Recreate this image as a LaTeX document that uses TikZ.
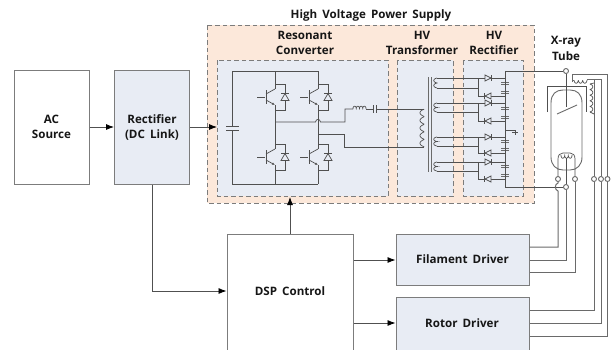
\documentclass[tikz,border=0pt]{standalone}
\usepackage{fontspec}
\setmainfont[WordSpace=1.7]{Open Sans}
\usetikzlibrary{arrows.meta}
\definecolor{boxfill}{HTML}{E8ECF4}
\definecolor{hvfill}{HTML}{FCE8DA}
\definecolor{edgegray}{HTML}{7C7C7C}
\definecolor{wiredark}{HTML}{505050}
\definecolor{wiregray}{HTML}{6A6A6A}
\definecolor{inkdark}{HTML}{161616}
\tikzset{
  block/.style={draw=edgegray,line width=1pt,inner sep=0pt,align=center,text=inkdark,font=\bfseries\fontsize{11.6}{15}\selectfont},
  title/.style={inner sep=0pt,align=center,text=inkdark,font=\bfseries\fontsize{11.6}{15.5}\selectfont},
  dashbox/.style={draw=edgegray,line width=0.9pt,dash pattern=on 4.5pt off 3pt},
  flow/.style={draw=wiredark,line width=0.8pt,-{Latex[length=8pt,width=6pt,color=black]}},
  wire/.style={draw=wiredark,line width=0.7pt},
  lead/.style={draw=wiregray,line width=1pt},
  term/.style={circle,draw=wiregray,fill=white,line width=0.9pt,minimum size=5pt,inner sep=0pt}
}
% x, y start, y end, turns, bulge
\newcommand{\VCoil}[5]{\draw[wire,domain=0:360*#4,samples=#4*24+1,variable=\t] plot ({#1+#5*(1-cos(\t))},{#2+(\t/(360*#4))*(#3-#2)-0.7*sin(\t)});}
% y, x start, x end, turns, bulge
\newcommand{\HCoil}[5]{\draw[wire,domain=0:360*#4,samples=#4*24+1,variable=\t] plot ({#2+(\t/(360*#4))*(#3-#2)-0.7*sin(\t)},{#1+#5*(1-cos(\t))});}
% transistor with its freewheel diode: column x, centre y
\newcommand{\Igbt}[2]{%
  \draw[wire] (#1-18,#2)--(#1-10,#2);
  \draw[wire,line width=1pt] (#1-9,#2-7)--(#1-9,#2+7);
  \draw[wire] (#1-9,#2-3)--(#1,#2-8);
  \draw[wire,-{Latex[length=3pt,width=2.5pt]}] (#1-9,#2+3)--(#1,#2+8);
  \draw[wire] (#1,#2-13)--(#1+10,#2-13)--(#1+10,#2+13)--(#1,#2+13);
  \draw[wire,fill=boxfill] (#1+10,#2-3.5)--(#1+6,#2+3.5)--(#1+14,#2+3.5)--cycle;
  \draw[wire] (#1+6,#2-3.5)--(#1+14,#2-3.5);
}
% rectifier arm: diode at y, direction +1 or -1
\newcommand{\RDiode}[3]{%
  \draw[wire,fill=boxfill] (#1-3*#3,#2-3)--(#1-3*#3,#2+3)--(#1+3*#3,#2)--cycle;
  \draw[wire] (#1+3.5*#3,#2-3)--(#1+3.5*#3,#2+3);
}
\newcommand{\RCap}[1]{\draw[wiregray,line width=1pt] (501,#1-1)--(509,#1-1) (501,#1+1)--(509,#1+1);}
% secondary winding: top y, bottom y, bottom diode y
\newcommand{\Sec}[5]{%
  \VCoil{437}{#1}{#2}{2}{-1.6}
  \draw[wire] (437,#1)--(505,#1) (437,#2)--(478,#2) (478,#1)--(478,#3)--(505,#3);
  \RDiode{488}{#1}{1}
  \RDiode{488}{#3}{-1}
  \RCap{#4}\RCap{#5}
}
\begin{document}
\begin{tikzpicture}[x=1pt,y=-1pt]
\useasboundingbox (0,0) rectangle (616,349);
\clip (0,0) rectangle (616,349);
\fill[white] (0,0) rectangle (616,349);

% high voltage supply frame and its three sections
\draw[dashbox,fill=hvfill] (207,25) rectangle (534,203);
\draw[dashbox,fill=boxfill] (217,60) rectangle (388,196);
\draw[dashbox,fill=boxfill] (397,60) rectangle (453,196);
\draw[dashbox,fill=boxfill] (463,60) rectangle (523,196);
\coordinate (hvleft) at (217,127);
\coordinate (hvbottom) at (290,197);

\node[title] (thv) at (371,15) {High Voltage Power Supply};
\node[title] (tres) at (305,43) {Resonant\\Converter};
\node[title] (txf) at (422,43) {HV\\Transformer};
\node[title] (trec) at (494,43) {HV\\Rectifier};
\node[title] (ttube) at (566,48.5) {X-ray\\Tube};

% main blocks
\node[block,fill=white,minimum width=75pt,minimum height=114pt] (ac) at (51.5,127) {AC\\Source};
\node[block,fill=boxfill,minimum width=75pt,minimum height=114pt] (rect) at (152,127) {Rectifier\\(DC Link)};
\node[block,fill=white,minimum width=126pt,minimum height=124pt] (dsp) at (290,296) {};
\node[title] (dsplabel) at (290,291) {DSP Control};
\node[block,fill=boxfill,minimum width=133pt,minimum height=51pt] (fil) at (462.5,259.5) {Filament Driver};
\node[block,fill=boxfill,minimum width=133pt,minimum height=58pt] (rot) at (462.5,326) {};
\node[title] (rotlabel) at (462,323) {Rotor Driver};

% signal flow
\draw[flow] (ac.east|-0,127) -- (rect.west|-0,127);
\draw[flow] (rect.east|-0,127) -- (hvleft);
\draw[flow] (rect.south) -- (152,291) -- (dsp.west|-0,291);
\draw[flow] (dsp.north) -- (hvbottom);
\draw[flow] (dsp.east|-0,260) -- (fil.west|-0,260);
\draw[flow] (dsp.east|-0,323) -- (rot.west|-0,323);

% bridge
\draw[wire] (232,126)--(232,71)--(318,71);
\draw[wire] (232,130)--(232,184)--(318,184);
\draw[wire,line width=1pt] (226,126)--(239,126);
\draw[wire,line width=1pt] (226,130)--(239,130);
\draw[wire] (275,71)--(275,89) (275,105)--(275,149) (275,165)--(275,184);
\draw[wire] (318,71)--(318,89) (318,105)--(318,149) (318,165)--(318,184);
\Igbt{275}{97}\Igbt{318}{97}\Igbt{275}{157}\Igbt{318}{157}
\draw[wire] (275,122)--(315.5,122) .. controls (316,118.5) and (320,118.5) .. (320.5,122) -- (345,122)--(345,109)--(353,109);
\HCoil{109}{353}{366}{4}{-1.4}
\draw[wire] (366,109)--(373.5,109) (376.5,109)--(424,109);
\draw[wire,line width=1pt] (373.5,105)--(373.5,113) (376.5,105)--(376.5,113);
\draw[wire] (318,134)--(344,134)--(344,147)--(424,147);

% transformer
\VCoil{424}{109}{147}{5}{-2}
\draw[wiregray,line width=1pt] (428,77)--(428,172) (431,77)--(431,172);

% rectifier stack
\Sec{78}{88}{96}{83}{92}
\Sec{103}{112}{121}{108}{117}
\Sec{137}{146}{153}{141}{149}
\Sec{162}{171}{179}{166}{175}
\draw[wire] (505,71)--(505,187);
\draw[wire] (505,130)--(515,130)--(515,135);
\draw[wire,line width=1pt] (512,132)--(518,132);

% tube
\draw[lead,line width=0.9pt] (551,130) -- (551,103) .. controls (551,94) and (556,90) .. (563,90) -- (570,90) .. controls (577,90) and (582,94) .. (582,103) -- (582,157) .. controls (582,165) and (577,170) .. (570,170) -- (563,170) .. controls (556,170) and (551,165) .. (551,157) -- cycle;
\draw[wire] (547,112)--(547,86)--(586,86)--(586,112);
\draw[lead,line width=0.9pt] (557,114)--(577,105);
\node[term] (anode) at (566,71) {};
\node[term] (cath) at (566,187) {};
\node[term] (fa) at (558,179) {};
\node[term] (fb) at (575,179) {};
\node[term] (ra) at (594,179) {};
\node[term] (rb) at (601,179) {};
\node[term] (rc) at (607.5,179) {};
\draw[wire] (505,71) -- (anode);
\draw[wire] (505,187) -- (cath);
\draw[wire] (anode) -- (566,107);
\draw[wire] (fa) -- (558,159) .. controls (558,155) and (560,153) .. (563,153) -- (570,153) .. controls (573,153) and (575,155) .. (575,159) -- (fb);
\HCoil{155}{561}{572}{3}{1.6}
\draw[wire] (566,158) -- (cath);

% stator windings
\draw[lead] (572,82)--(572,74)--(607.5,74)--(rc);
\HCoil{80}{574}{587}{3}{1.6}
\draw[lead,line width=0.8pt] (572,80)--(574,80) (587,80)--(587,79)--(601,79)--(rb);
\draw[lead] (594,79)--(ra);
\VCoil{590}{84}{112}{5}{1.4}
\draw[wire] (594,83)--(590,84) (590,112)--(594,114);

% driver leads
\draw[lead] (fa) -- (558,183) .. controls (554.5,184) and (554.5,190) .. (558,191) -- (558,247) -- (fil.east|-0,247);
\draw[lead] (cath) -- (566,260) -- (fil.east|-0,260);
\draw[lead] (fb) -- (575,272) -- (fil.east|-0,272);
\draw[lead] (ra) -- (594,310) -- (rot.east|-0,310);
\draw[lead] (rb) -- (601,323) -- (rot.east|-0,323);
\draw[lead] (rc) -- (607.5,336) -- (rot.east|-0,336);
\end{tikzpicture}
\end{document}
